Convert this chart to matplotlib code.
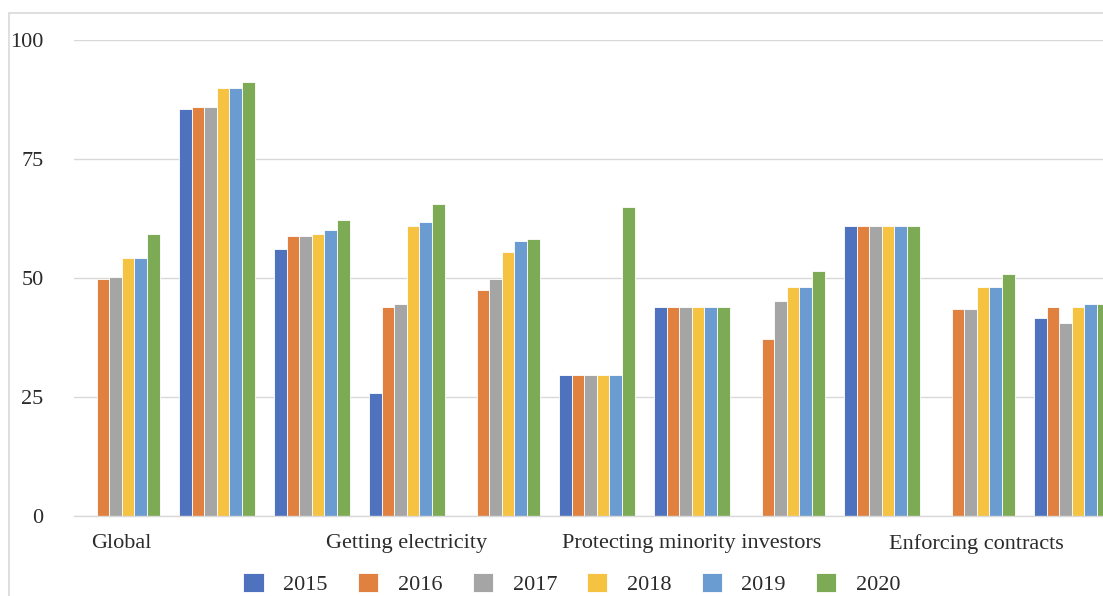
"""Grouped bar chart of Doing Business scores, 2015-2020."""

import numpy as np
import matplotlib
matplotlib.use("Agg")
import matplotlib.pyplot as plt
from matplotlib.patches import Rectangle

# Section: chart data.
categories = [
    "Global",
    "Starting a business",
    "Dealing with construction permits",
    "Getting electricity",
    "Registering property",
    "Getting credit",
    "Protecting minority investors",
    "Paying taxes",
    "Trading across borders",
    "Enforcing contracts",
    "Resolving insolvency",
]
years = ["2015", "2016", "2017", "2018", "2019", "2020"]

nan = np.nan
scores_2015 = [nan, 85.6, 56.0, 25.8, nan, 29.7, 44.0, nan, 61.0, nan, 41.7]
scores_2016 = [49.7, 86.0, 58.8, 44.0, 47.4, 29.7, 44.0, 37.1, 61.0, 43.4, 44.0]
scores_2017 = [50.2, 86.0, 58.8, 44.6, 49.8, 29.7, 44.0, 45.1, 61.0, 43.4, 40.5]
scores_2018 = [54.2, 90.0, 59.3, 61.0, 55.4, 29.7, 44.0, 48.1, 61.0, 48.1, 44.0]
scores_2019 = [54.2, 90.0, 60.0, 61.7, 57.7, 29.7, 44.0, 48.1, 61.0, 48.1, 44.6]
scores_2020 = [59.3, 91.2, 62.2, 65.6, 58.2, 65.0, 44.0, 51.4, 61.0, 50.9, 44.6]

series = [scores_2015, scores_2016, scores_2017, scores_2018, scores_2019, scores_2020]
colors = ["#4F72BE", "#E0813F", "#A5A5A5", "#F5C242", "#6A9BD1", "#7DAB55"]

# Section: figure and axes placement (axes run a little past the right edge, as in the crop).
W, H = 1103, 596
fig = plt.figure(figsize=(W / 100, H / 100), dpi=100)
fig.patch.set_facecolor("white")
ax = fig.add_axes([74.3 / W, 1 - 516 / H, 1045 / W, 476 / H])

plt.rcParams["font.family"] = ["Liberation Serif", "DejaVu Serif"]
text_color = "#2B2B2B"
grid_color = "#D9D9D9"

x = np.arange(len(categories))
width = 12.6 / 95
handles = []
for i, (label, values, color) in enumerate(zip(years, series, colors)):
    bars = ax.bar(x + (i - 2.5) * width, values, width, color=color,
                  edgecolor="white", linewidth=0.6, label=label)
    handles.append(bars)

# Section: axes styling to look like the Excel original.
ax.set_xlim(-0.5, len(categories) - 0.5)
ax.set_ylim(0, 100)
ax.set_yticks([0, 25, 50, 75, 100])
ax.yaxis.grid(True, color=grid_color, linewidth=1.0)
ax.set_axisbelow(True)
for side in ["top", "right", "left"]:
    ax.spines[side].set_visible(False)
ax.spines["bottom"].set_color(grid_color)
ax.spines["bottom"].set_linewidth(1.0)

ax.set_xticks(x[::3])
ax.set_xticklabels(categories[::3])
ax.tick_params(axis="x", length=0, pad=13, labelsize=16, labelcolor=text_color)
ax.tick_params(axis="y", length=0, pad=22, labelsize=16, labelcolor=text_color)
for lab in ax.get_yticklabels() + ax.get_xticklabels():
    lab.set_family("Liberation Serif")

# Section: legend and chart-area border.
fig.legend(handles=handles, labels=years, loc="center", ncol=6,
           bbox_to_anchor=(572 / W, 1 - 584 / H), frameon=False,
           prop={"family": "Liberation Serif", "size": 16},
           labelcolor=text_color, handlelength=0.9, handleheight=0.9,
           handletextpad=0.9, columnspacing=1.35)

fig.add_artist(Rectangle((9 / W, -0.1), 1.2, 1.1 - 13 / H,
                         transform=fig.transFigure, fill=False,
                         edgecolor=grid_color, linewidth=1.2))

fig.savefig("out.png", dpi=100)
